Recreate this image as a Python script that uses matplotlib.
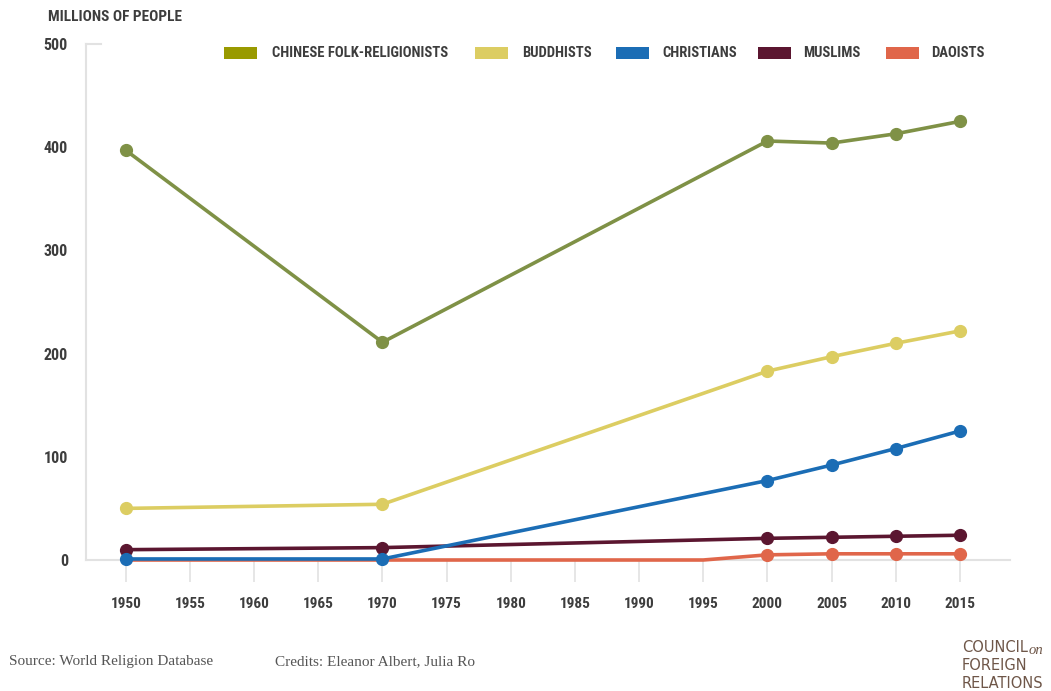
import matplotlib.pyplot as plt
import matplotlib
from matplotlib.patches import Rectangle

matplotlib.rcParams['font.family'] = ['Roboto Condensed', 'Liberation Sans Narrow', 'DejaVu Sans']
matplotlib.rcParams['font.stretch'] = 'condensed'
matplotlib.rcParams['font.weight'] = 'bold'

# data (millions of people)
years = [1950, 1970, 1995, 2000, 2005, 2010, 2015]
folk = [397, 211, None, 406, 404, 413, 425]
buddhists = [50, 54, None, 183, 197, 210, 222]
christians = [1, 1, None, 77, 92, 108, 125]
muslims = [10, 12, None, 21, 22, 23, 24]
daoists = [0, 0, 0, 5, 6, 6, 6]

names = ['CHINESE FOLK-RELIGIONISTS', 'BUDDHISTS', 'CHRISTIANS', 'MUSLIMS', 'DAOISTS']
line_colors = ['#7f9146', '#dccd62', '#1b6db5', '#5b1630', '#e0664a']
patch_colors = ['#999a00', '#dccd62', '#1b6db5', '#5b1630', '#e0664a']
xticks = list(range(1950, 2016, 5))
yticks = [0, 100, 200, 300, 400, 500]

text_col = '#3d3d3d'
grid_col = '#e2e2e2'
W, H = 1051, 691

fig = plt.figure(figsize=(10.51, 6.91), dpi=100, facecolor='white')
ax = fig.add_axes([86/W, 1-560/H, 924/W, 516/H])

def pts(vals):
    xs = [y for y, v in zip(years, vals) if v is not None]
    vs = [v for v in vals if v is not None]
    return xs, vs

series = [folk, buddhists, christians, muslims, daoists]
for i in [4, 3, 2, 1, 0]:
    xs, vs = pts(series[i])
    if i == 4:
        ax.plot(xs, vs, color=line_colors[i], lw=2.6, zorder=3, clip_on=False)
        ax.plot(xs[3:], vs[3:], 'o', color=line_colors[i], ms=8.5, zorder=3, clip_on=False)
    else:
        ax.plot(xs, vs, '-o', color=line_colors[i], lw=2.6, ms=8.5, zorder=3 + (4 - i), clip_on=False)

ax.set_xlim(1946.9, 2018.9)
ax.set_ylim(0, 500)
ax.set_xticks(xticks)
ax.set_yticks(yticks)
ax.tick_params(axis='x', length=16, width=1.2, color=grid_col, pad=11,
               labelsize=11, labelcolor=text_col)
ax.tick_params(axis='y', length=0, pad=13, labelsize=11.5, labelcolor=text_col)

for s in ['top', 'right']:
    ax.spines[s].set_visible(False)
for s in ['left', 'bottom']:
    ax.spines[s].set_color(grid_col)
    ax.spines[s].set_linewidth(1.5)
    ax.spines[s].set_zorder(1)
ax.plot([0, 0.016], [1, 1], color=grid_col, lw=1.5, transform=ax.transAxes, clip_on=False)

fig.text(48/W, 1-17/H, 'MILLIONS OF PEOPLE', fontsize=11, color=text_col, va='center')

# legend, laid out across the top
patch_x = [224, 475, 616, 758, 886]
text_x = [272, 522, 662, 803, 931]
for px, tx, c, n in zip(patch_x, text_x, patch_colors, names):
    fig.patches.append(Rectangle((px/W, 1-59/H), 33/W, 12/H, transform=fig.transFigure,
                                 facecolor=c, edgecolor='none'))
    fig.text(tx/W, 1-53/H, n, fontsize=10.5, color=text_col, va='center')

# footer
fig.text(9/W, 1-662/H, 'Source: World Religion Database', family='Liberation Serif',
         weight='normal', stretch='normal', fontsize=11, color='#555555', va='center')
fig.text(275/W, 1-662/H, 'Credits: Eleanor Albert, Julia Ro', family='Liberation Serif',
         weight='normal', stretch='normal', fontsize=11, color='#555555', va='center')
logo = '#6e5648'
fig.text(962/W, 1-648/H, 'COUNCIL', family='DejaVu Sans', weight='normal', stretch='normal',
         fontsize=10.5, color=logo, va='center')
fig.text(1029/W, 1-650/H, 'on', family='Liberation Serif', style='italic', weight='normal',
         fontsize=10.5, color=logo, va='center')
fig.text(962/W, 1-666/H, 'FOREIGN', family='DejaVu Sans', weight='normal', stretch='normal',
         fontsize=10.5, color=logo, va='center')
fig.text(962/W, 1-684/H, 'RELATIONS', family='DejaVu Sans', weight='normal', stretch='normal',
         fontsize=10.5, color=logo, va='center')

fig.savefig('out.png', dpi=100, facecolor='white')
